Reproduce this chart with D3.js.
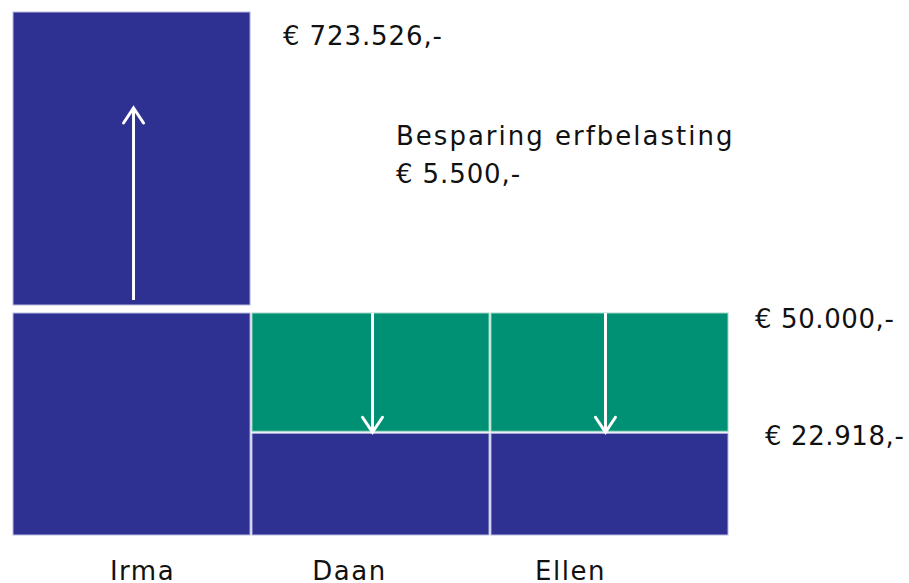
<!DOCTYPE html>
<html>
<head>
<meta charset="utf-8">
<script src="https://cdn.jsdelivr.net/npm/d3@7"></script>
<style>
body { margin: 0; background: #fff; }
text { font-family: "DejaVu Sans", sans-serif; fill: #111; }
</style>
</head>
<body>
<div id="chart-area"></div>
<script>
let width = 909,
height = 583;

// data
let persons = ["Irma", "Daan", "Ellen"];
let startValue = [50000, 50000, 50000];   // top of bottom stack
let afterTax = [50000, 22918, 22918];     // blue part per person
let irmaTotal = 723526;
let saving = 5500;

let valueLabels = ["€ 723.526,-", "€ 50.000,-", "€ 22.918,-"];
let savingLabel = ["Besparing erfbelasting", "€ 5.500,-"];

let blue = "#2e3192",
green = "#009174";

let svg = d3.select("#chart-area").append("svg")
.attr("width", width)
.attr("height", height);

let x = d3.scaleBand()
	.domain(persons)
	.range([13, 728])
	.paddingInner(0.008);

// broken scale: lower part is linear up to 50.000, the rest compressed
let y = d3.scaleLinear()
	.domain([0, 50000, irmaTotal])
	.range([535, 313, 12]);

let gap = 8;

// Irma top block
svg.append("rect")
	.attr("x", x("Irma"))
	.attr("y", y(irmaTotal))
	.attr("width", x.bandwidth())
	.attr("height", y(startValue[0]) - gap - y(irmaTotal))
	.attr("fill", blue)
	.attr("stroke", "#b9bce0")
	.attr("stroke-width", 1);

// green part (what is lost)
svg.selectAll(".lost")
	.data(persons)
	.enter().append("rect")
	.attr("class", "lost")
	.attr("x", d => x(d))
	.attr("y", (d, i) => y(startValue[i]))
	.attr("width", x.bandwidth())
	.attr("height", (d, i) => Math.max(0, y(afterTax[i]) - y(startValue[i]) - 2))
	.attr("fill", green)
	.attr("stroke", "#9fd6c8")
	.attr("stroke-width", 1);

// blue part
svg.selectAll(".kept")
	.data(persons)
	.enter().append("rect")
	.attr("class", "kept")
	.attr("x", d => x(d))
	.attr("y", (d, i) => y(afterTax[i]))
	.attr("width", x.bandwidth())
	.attr("height", (d, i) => y(0) - y(afterTax[i]))
	.attr("fill", blue)
	.attr("stroke", "#b9bce0")
	.attr("stroke-width", 1);

// arrows
function arrow(cx, y1, y2) {
	let dir = y2 < y1 ? 1 : -1;
	svg.append("line")
		.attr("x1", cx).attr("x2", cx)
		.attr("y1", y1).attr("y2", y2)
		.attr("stroke", "#fff").attr("stroke-width", 3);
	svg.append("path")
		.attr("d", `M${cx - 10},${y2 + dir * 15} L${cx},${y2} L${cx + 10},${y2 + dir * 15}`)
		.attr("fill", "none")
		.attr("stroke", "#fff")
		.attr("stroke-width", 3)
		.attr("stroke-linecap", "round")
		.attr("stroke-linejoin", "miter");
}

let arrowDx = [2, 2, -4];
let cxIrma = x("Irma") + x.bandwidth() / 2 + arrowDx[0];
arrow(cxIrma, y(startValue[0]) - gap - 5, 108);
persons.slice(1).forEach((p, i) => {
	arrow(x(p) + x.bandwidth() / 2 + arrowDx[i + 1], y(startValue[i + 1]), y(afterTax[i + 1]) - 1);
});

// value labels
let fs = 26;
function label(txt, lx, ly, ls) {
	svg.append("text").attr("x", lx).attr("y", ly)
		.style("font-size", fs + "px")
		.style("letter-spacing", ls + "px")
		.text(txt);
}
label(valueLabels[0], 283, y(irmaTotal) + 33, 0.9);
label(valueLabels[1], 755, y(startValue[1]) + 15, 0.6);
label(valueLabels[2], 765, y(afterTax[1]) + 12, 0.6);

label(savingLabel[0], 396, 145, 2);
label(savingLabel[1], 396, 183, 0.9);

// names
let labelDx = [11, -21, -39];
svg.selectAll(".name")
	.data(persons)
	.enter().append("text")
	.attr("class", "name")
	.attr("x", (d, i) => x(d) + x.bandwidth() / 2 + labelDx[i])
	.attr("y", 580)
	.attr("text-anchor", "middle")
	.style("font-size", fs + "px")
	.style("letter-spacing", "1.5px")
	.text(d => d);
</script>
</body>
</html>
